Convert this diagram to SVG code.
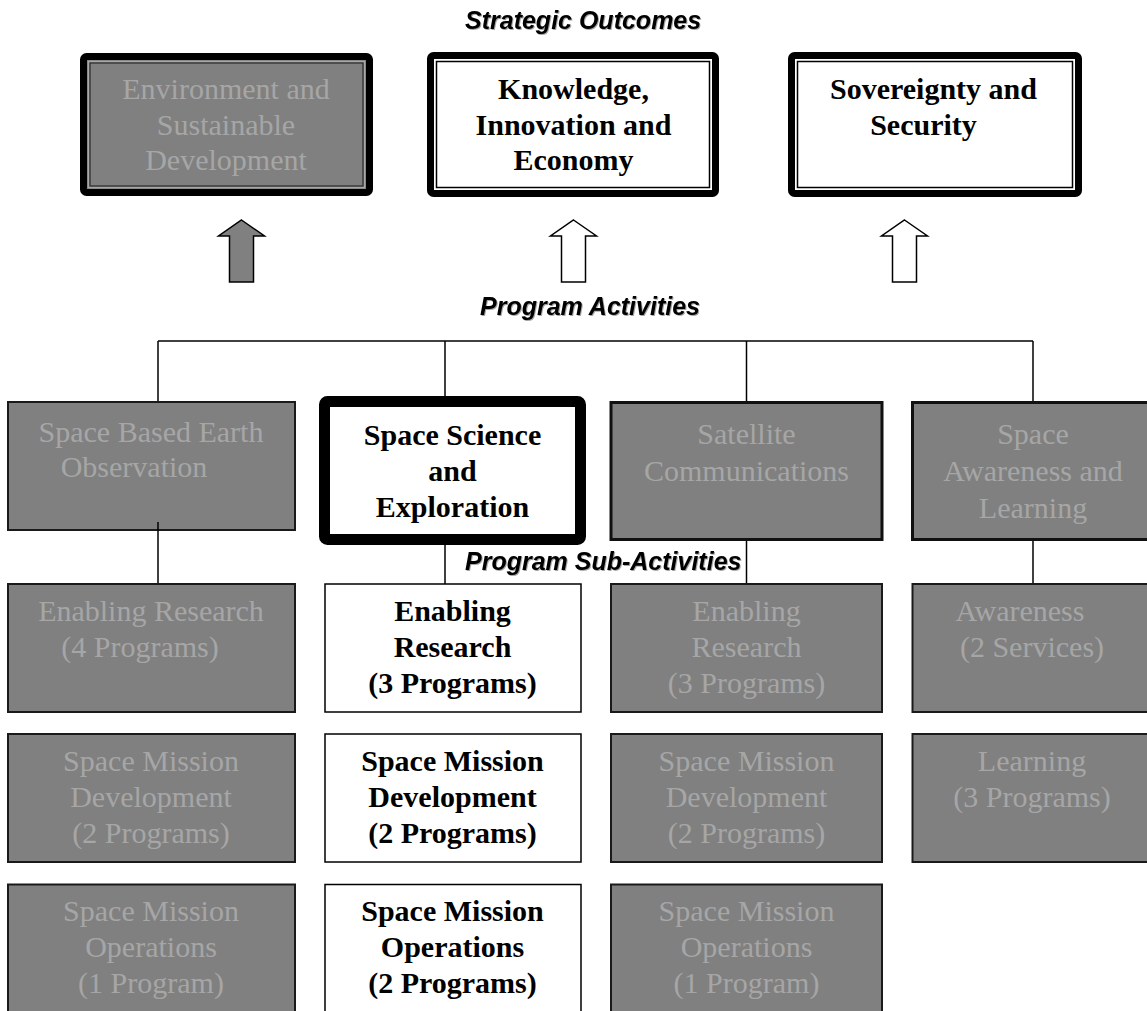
<svg xmlns="http://www.w3.org/2000/svg" width="1147" height="1011" viewBox="0 0 1147 1011">
  <defs>
    <filter id="shadow" x="-5%" y="-20%" width="110%" height="140%">
      <feDropShadow dx="1" dy="1" stdDeviation="0.6" flood-color="#000" flood-opacity="0.35"/>
    </filter>
    <style>
      .gray { fill: #808080; stroke: #1a1a1a; stroke-width: 2; }
      .grayb { fill: #808080; stroke: #111; stroke-width: 3; }
      .white { fill: #fff; stroke: #000; stroke-width: 1.5; }
      .outer { stroke: #000; stroke-width: 7; }
      .inner { fill: none; stroke: #000; stroke-width: 1.5; }
      .tg { font-family: "Liberation Serif", "Times New Roman", serif; font-size: 30px; fill: #a6a6a6; text-anchor: middle; }
      .tb { font-family: "Liberation Serif", "Times New Roman", serif; font-size: 30px; font-weight: bold; fill: #000; text-anchor: middle; }
      .head { font-family: "Liberation Sans", Arial, sans-serif; font-size: 25px; font-weight: bold; font-style: italic; fill: #000; filter: url(#shadow); }
      .line { fill: none; stroke: #000; stroke-width: 1.5; }
      .arrow { stroke: #000; stroke-width: 1.5; stroke-linejoin: miter; }
    </style>
  </defs>

  <!-- Section headings -->
  <text class="head" x="465" y="29">Strategic Outcomes</text>
  <text class="head" x="480" y="315">Program Activities</text>
  <text class="head" x="465" y="570">Program Sub-Activities</text>

  <!-- Strategic outcomes -->
  <g id="outcome-environment">
    <rect class="outer" x="83.5" y="56.5" width="286" height="136" rx="3" fill="#808080"/>
    <rect x="88.5" y="61.5" width="276" height="126" fill="none" stroke="#a8a8a8" stroke-width="1.5"/>
    <rect x="90" y="63" width="273" height="123" fill="none" stroke="#2a2a2a" stroke-width="1.2"/>
    <text class="tg" x="226" y="99">Environment and</text>
    <text class="tg" x="226" y="134.5">Sustainable</text>
    <text class="tg" x="226" y="170">Development</text>
  </g>
  <g id="outcome-knowledge">
    <rect class="outer" x="430.5" y="55.5" width="285" height="138" rx="3" fill="#fff"/>
    <rect class="inner" x="436.5" y="61.5" width="273" height="126"/>
    <text class="tb" x="573.5" y="99">Knowledge,</text>
    <text class="tb" x="573.5" y="134.5">Innovation and</text>
    <text class="tb" x="573.5" y="170">Economy</text>
  </g>
  <g id="outcome-sovereignty">
    <rect class="outer" x="791.5" y="55.5" width="287" height="138" rx="3" fill="#fff"/>
    <rect class="inner" x="797.5" y="61.5" width="275" height="126"/>
    <text class="tb" x="933.5" y="99">Sovereignty and</text>
    <text class="tb" x="923.5" y="134.5">Security</text>
  </g>

  <!-- Block arrows towards the outcomes -->
  <g id="arrow-environment">
    <path class="arrow" fill="#808080" d="M241.5,220 L264.5,236 L253.5,236 L253.5,282 L229.5,282 L229.5,236 L218.5,236 Z"/>
  </g>
  <g id="arrow-knowledge">
    <path class="arrow" fill="#fff" d="M573.5,220 L596.5,236 L585.5,236 L585.5,282 L561.5,282 L561.5,236 L550.5,236 Z"/>
  </g>
  <g id="arrow-sovereignty">
    <path class="arrow" fill="#fff" d="M904.5,220 L927.5,236 L916.5,236 L916.5,282 L892.5,282 L892.5,236 L881.5,236 Z"/>
  </g>

  <!-- Connectors -->
  <g id="connectors">
    <path class="line" d="M158,341 H1033"/>
    <path class="line" d="M158,341 V402"/>
    <path class="line" d="M445,341 V396"/>
    <path class="line" d="M746.5,341 V402"/>
    <path class="line" d="M1033,341 V402"/>
    <path class="line" d="M445,545 V584"/>
    <path class="line" d="M746.5,541 V584"/>
    <path class="line" d="M1033,541 V584"/>
  </g>

  <!-- Program activities -->
  <g id="pa-earth-observation">
    <rect class="gray" x="8" y="402" width="287" height="128"/>
    <text class="tg" x="151" y="442">Space Based Earth</text>
    <text class="tg" x="134" y="477">Observation</text>
  </g>
  <path class="line" d="M158,522 V584"/>
  <g id="pa-space-science">
    <rect x="324.5" y="401.5" width="256" height="138" rx="3" fill="#fff" stroke="#000" stroke-width="11"/>
    <text class="tb" x="452.5" y="445">Space Science</text>
    <text class="tb" x="452.5" y="481">and</text>
    <text class="tb" x="452.5" y="517">Exploration</text>
  </g>
  <g id="pa-satcom">
    <rect class="grayb" x="611" y="402.5" width="271" height="137"/>
    <text class="tg" x="746.5" y="444">Satellite</text>
    <text class="tg" x="746.5" y="481">Communications</text>
  </g>
  <g id="pa-awareness-learning">
    <rect class="grayb" x="912.5" y="402.5" width="250" height="137"/>
    <text class="tg" x="1033" y="444">Space</text>
    <text class="tg" x="1033" y="481">Awareness and</text>
    <text class="tg" x="1033" y="518">Learning</text>
  </g>

  <!-- Program sub-activities: earth observation -->
  <g id="eo-research">
    <rect class="gray" x="8" y="584" width="287" height="128"/>
    <text class="tg" x="151" y="621">Enabling  Research</text>
    <text class="tg" x="140" y="657">(4 Programs)</text>
  </g>
  <g id="eo-development">
    <rect class="gray" x="8" y="734" width="287" height="128"/>
    <text class="tg" x="151" y="771">Space Mission</text>
    <text class="tg" x="151" y="807">Development</text>
    <text class="tg" x="151" y="843">(2 Programs)</text>
  </g>
  <g id="eo-operations">
    <rect class="gray" x="8" y="884.5" width="287" height="140"/>
    <text class="tg" x="151" y="921">Space Mission</text>
    <text class="tg" x="151" y="957">Operations</text>
    <text class="tg" x="151" y="993">(1 Program)</text>
  </g>

  <!-- Program sub-activities: space science -->
  <g id="sse-research">
    <rect class="white" x="325" y="584" width="256" height="128"/>
    <text class="tb" x="452.5" y="621">Enabling</text>
    <text class="tb" x="452.5" y="657">Research</text>
    <text class="tb" x="452.5" y="693">(3 Programs)</text>
  </g>
  <g id="sse-development">
    <rect class="white" x="325" y="734" width="256" height="128"/>
    <text class="tb" x="452.5" y="771">Space Mission</text>
    <text class="tb" x="452.5" y="807">Development</text>
    <text class="tb" x="452.5" y="843">(2 Programs)</text>
  </g>
  <g id="sse-operations">
    <rect class="white" x="325" y="884.5" width="256" height="140"/>
    <text class="tb" x="452.5" y="921">Space Mission</text>
    <text class="tb" x="452.5" y="957">Operations</text>
    <text class="tb" x="452.5" y="993">(2 Programs)</text>
  </g>

  <!-- Program sub-activities: satellite communications -->
  <g id="sc-research">
    <rect class="gray" x="611" y="584" width="271" height="128"/>
    <text class="tg" x="746.5" y="621">Enabling</text>
    <text class="tg" x="746.5" y="657">Research</text>
    <text class="tg" x="746.5" y="693">(3 Programs)</text>
  </g>
  <g id="sc-development">
    <rect class="gray" x="611" y="734" width="271" height="128"/>
    <text class="tg" x="746.5" y="771">Space Mission</text>
    <text class="tg" x="746.5" y="807">Development</text>
    <text class="tg" x="746.5" y="843">(2 Programs)</text>
  </g>
  <g id="sc-operations">
    <rect class="gray" x="611" y="884.5" width="271" height="140"/>
    <text class="tg" x="746.5" y="921">Space Mission</text>
    <text class="tg" x="746.5" y="957">Operations</text>
    <text class="tg" x="746.5" y="993">(1 Program)</text>
  </g>

  <!-- Program sub-activities: awareness and learning -->
  <g id="sal-awareness">
    <rect class="gray" x="912.5" y="584" width="250" height="128"/>
    <text class="tg" x="1020" y="621">Awareness</text>
    <text class="tg" x="1032" y="657">(2 Services)</text>
  </g>
  <g id="sal-learning">
    <rect class="gray" x="912.5" y="734" width="250" height="128"/>
    <text class="tg" x="1032" y="771">Learning</text>
    <text class="tg" x="1032" y="807">(3 Programs)</text>
  </g>
</svg>
